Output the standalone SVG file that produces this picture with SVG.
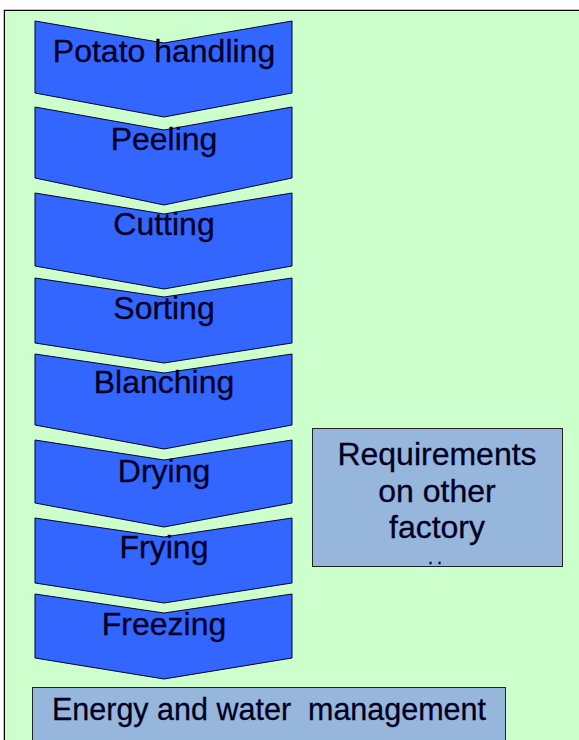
<svg xmlns="http://www.w3.org/2000/svg" width="579" height="740" viewBox="0 0 579 740">
<style>
.bg{fill:#CCFFCC;stroke:#000;stroke-width:1.5}
.chev{fill:#3366FF;stroke:#000033;stroke-width:1}
.box{fill:#97B6DC;stroke:#222;stroke-width:1}
text{font-family:"Liberation Sans",Arial,sans-serif;font-size:32px;fill:#000022;text-anchor:middle;stroke:#000022;stroke-width:0.3}
</style>
<rect x="0" y="0" width="579" height="740" fill="#fff"/>
<path class="bg" d="M4.5,741 V10.5 H580"/>
<rect x="5" y="11" width="575" height="730" fill="#CCFFCC"/>
<g id="connectors"></g>
<g id="potato-handling"><path class="chev" d="M35,21 L164,43 L292,21 V93 L164,117 L35,93 Z"/><text x="164" y="62">Potato handling</text></g>
<g id="peeling"><path class="chev" d="M35,107 L164,130 L292,107 V178 L164,205 L35,178 Z"/><text x="164" y="150">Peeling</text></g>
<g id="cutting"><path class="chev" d="M35,193 L164,214 L292,193 V266 L164,289 L35,266 Z"/><text x="164" y="235">Cutting</text></g>
<g id="sorting"><path class="chev" d="M35,278 L164,297 L292,278 V343 L164,363 L35,343 Z"/><text x="164" y="319">Sorting</text></g>
<g id="blanching"><path class="chev" d="M35,354 L164,373 L292,354 V425 L164,449 L35,425 Z"/><text x="164" y="393">Blanching</text></g>
<g id="drying"><path class="chev" d="M35,440 L164,460 L292,440 V503 L164,527 L35,503 Z"/><text x="164" y="482">Drying</text></g>
<g id="frying"><path class="chev" d="M35,518 L164,537 L292,518 V583 L164,603 L35,583 Z"/><text x="164" y="558">Frying</text></g>
<g id="freezing"><path class="chev" d="M35,594 L164,613 L292,594 V658 L164,679 L35,658 Z"/><text x="164" y="635">Freezing</text></g>
<g id="requirements"><rect class="box" x="312.5" y="428.5" width="250" height="138"/>
<text x="437" y="465">Requirements</text><text x="437" y="502">on other</text><text x="437" y="538">factory</text>
<text x="437" y="564" style="font-size:18px;letter-spacing:4px">..</text></g>
<g id="energy"><rect class="box" x="32.5" y="687.5" width="473" height="60"/>
<text x="269" y="720" xml:space="preserve" style="font-size:30.5px">Energy and water  management</text></g>
</svg>
